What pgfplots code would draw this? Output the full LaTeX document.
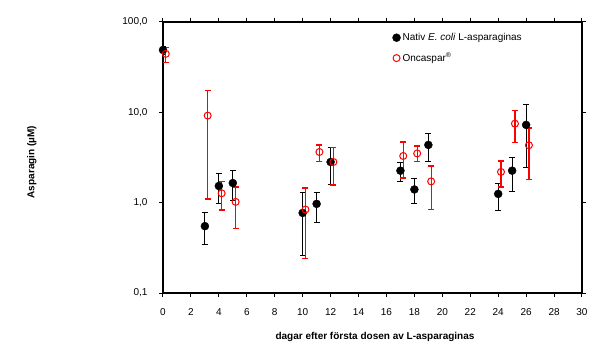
\documentclass[border=0pt]{standalone}
\usepackage{pgfplots}
\pgfplotsset{compat=1.18}
\usepackage{pgfplotstable}
\usepackage{fontspec}
\setmainfont{Liberation Sans}

\pgfplotstableread{
x y ep em
0 49 5 5
3 0.55 0.22 0.21
4 1.53 0.60 0.56
5 1.65 0.60 0.60
10 0.77 0.51 0.51
11 0.97 0.34 0.37
12 2.82 1.22 1.25
17 2.26 0.49 0.55
18 1.40 0.43 0.43
19 4.36 1.54 1.54
24 1.25 0.40 0.43
25 2.26 0.94 0.94
26 7.26 4.94 4.82
}\nativ

\pgfplotstableread{
x y ep em
0.2 44.4 8.3 9.1
3.2 9.2 8.2 8.1
4.2 1.27 0.43 0.44
5.2 1.02 0.47 0.50
10.2 0.84 0.61 0.60
11.2 3.64 0.72 0.80
12.2 2.82 1.22 1.25
17.2 3.29 1.41 1.41
18.2 3.51 0.74 0.67
19.2 1.72 0.83 0.88
24.2 2.19 0.70 0.70
25.2 7.5 2.9 2.9
26.2 4.32 2.38 2.52
}\onc

\begin{document}
\begin{tikzpicture}
\useasboundingbox (-163pt,-67pt) rectangle (437pt,293pt);
\begin{axis}[
  at={(0,0)}, anchor=south west,
  scale only axis, width=419pt, height=271pt,
  ymode=log, xmin=0, xmax=30, ymin=0.1, ymax=100,
  xtick={0,2,...,30},
  ytick={0.1,1,10,100},
  yticklabels={{0,1},{1,0},{10,0},{100,0}},
  tick align=outside,
  major tick length=4pt,
  yminorticks=false,
  axis line style={line width=1.2pt, black},
  tick style={line width=1pt, black},
  tick label style={font=\fontsize{10}{12}\selectfont},
  /pgf/number format/assume math mode=true,
  xticklabel style={yshift=-8pt},
  yticklabel style={xshift=-8pt},
  xlabel={\textbf{dagar efter första dosen av L-asparaginas}},
  ylabel={\textbf{Asparagin (µM)}},
  label style={font=\fontsize{10}{12}\selectfont},
  xlabel style={at={(axis description cs:0.506,-0.162)}, anchor=center},
  ylabel style={at={(axis description cs:-0.313,0.483)}, anchor=center},
  legend style={draw=none, fill=none, at={(0.545,0.97)}, anchor=north west,
    font=\fontsize{10}{12}\selectfont, row sep=7pt, inner sep=1pt},
  legend cell align=left,
]
\addplot[only marks, mark=*, mark size=4pt, black,
  error bars/.cd, y dir=both, y explicit,
  error bar style={black, line width=1pt},
  error mark options={rotate=90, mark size=3pt, line width=1pt, black}]
  table[x=x, y=y, y error plus=ep, y error minus=em]{\nativ};
\addlegendentry{Nativ \textit{E. coli} L-asparaginas}
\addplot[only marks, mark=o, mark size=3.5pt, color=red, mark options={line width=1pt, red},
  error bars/.cd, y dir=both, y explicit,
  error bar style={red, line width=1.2pt},
  error mark options={rotate=90, mark size=3pt, line width=1.2pt, red}]
  table[x=x, y=y, y error plus=ep, y error minus=em]{\onc};
\addlegendentry{Oncaspar\textsuperscript{®}}
\end{axis}
\draw[line width=1.2pt, black] (0pt,271pt) -- (419pt,271pt) -- (419pt,0pt);
\end{tikzpicture}
\end{document}
